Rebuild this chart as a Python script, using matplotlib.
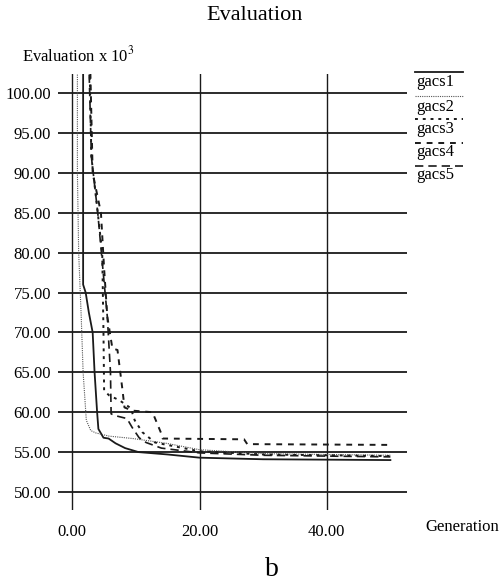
import matplotlib
matplotlib.use("Agg")
import matplotlib.pyplot as plt
from matplotlib.lines import Line2D

plt.rcParams['font.family'] = ['Liberation Serif', 'DejaVu Serif']
plt.rcParams['mathtext.fontset'] = 'stix'

# --- data (generation, evaluation x 10^3) ---
gacs1_x = [1.7, 1.7, 2.1, 2.6, 3.2, 3.5, 3.9, 4.1, 4.9, 5.7, 6.8, 8.3, 10.4, 15, 20, 30, 50]
gacs1_y = [104, 76, 75, 72.5, 70, 65, 60, 57.9, 56.8, 56.7, 56.1, 55.5, 55.0, 54.7, 54.3, 54.1, 54.0]

gacs2_x = [0.8, 0.8, 1.0, 1.4, 1.7, 2.2, 2.9, 3.7, 5.8, 9.5, 14.8, 20, 30, 50]
gacs2_y = [104, 90, 80, 72, 65, 59, 57.7, 57.4, 57.0, 56.7, 56.1, 55.3, 54.8, 54.6]

gacs3_x = [2.7, 3.0, 4.0, 4.7, 4.9, 5.0, 5.8, 7.4, 9.2, 9.8, 11, 13, 20, 30, 50]
gacs3_y = [104, 92, 85, 80, 70, 62.7, 62.1, 61.5, 60.5, 59, 57.5, 56.2, 55.1, 54.7, 54.5]

gacs4_x = [2.8, 3.2, 4.5, 5.0, 5.5, 6.3, 7.1, 7.9, 8.2, 9.4, 12.6, 14.0, 14.2, 27, 27.5, 50]
gacs4_y = [104, 90, 85, 78, 72, 68, 67.8, 62.7, 60.6, 60.2, 60.0, 57.3, 56.7, 56.6, 56.0, 55.9]

gacs5_x = [2.6, 3.0, 4.0, 4.8, 5.5, 6.0, 6.1, 6.6, 8.6, 9.4, 10.5, 11.6, 14, 20, 30, 50]
gacs5_y = [104, 92, 85, 78, 72, 65, 59.8, 59.6, 59.2, 58.1, 56.8, 56.2, 55.5, 54.9, 54.6, 54.4]

series_names = ["gacs1", "gacs2", "gacs3", "gacs4", "gacs5"]
xticks = [0, 20, 40]
yticks = [50, 55, 60, 65, 70, 75, 80, 85, 90, 95, 100]

ink = "#1a1a1a"
styles = [
    dict(linestyle="-", linewidth=1.3),
    dict(linestyle=(0, (1, 1)), linewidth=0.8, color="#555555"),
    dict(linestyle=(0, (1.5, 2.5)), linewidth=1.4),
    dict(linestyle=(0, (3, 3)), linewidth=1.4),
    dict(linestyle=(0, (5, 3)), linewidth=1.2),
]

fig = plt.figure(figsize=(5.03, 5.86), dpi=100)
ax = fig.add_axes([0.1153, 0.1297, 0.809 - 0.1153, 0.8737 - 0.1297])

all_x = [gacs1_x, gacs2_x, gacs3_x, gacs4_x, gacs5_x]
all_y = [gacs1_y, gacs2_y, gacs3_y, gacs4_y, gacs5_y]
for xs, ys, st in zip(all_x, all_y, styles):
    kw = dict(color=ink)
    kw.update(st)
    ax.plot(xs, ys, **kw)

ax.set_xlim(-2.25, 52.6)
ax.set_ylim(47.74, 102.4)
ax.set_xticks(xticks)
ax.set_yticks(yticks)
ax.set_xticklabels([f"{v:.2f}" for v in xticks], fontsize=12)
ax.set_yticklabels([f"{v:.2f}" for v in yticks], fontsize=12)
ax.tick_params(length=0, pad=5)
ax.tick_params(axis='x', pad=10)
for s in ax.spines.values():
    s.set_visible(False)
ax.grid(True, axis='y', color=ink, linewidth=1.3)
ax.grid(True, axis='x', color=ink, linewidth=1.0)
ax.set_axisbelow(True)

fig.text(0.507, 0.974, "Evaluation", ha='center', va='center', fontsize=16)
fig.text(0.044, 0.906, "Evaluation x 10$^3$", ha='left', va='center', fontsize=12)
fig.text(0.845, 0.100, "Generation", ha='left', va='center', fontsize=12)
fig.text(0.541, 0.028, "b", ha='center', va='center', fontsize=20)

# legend: sample line above each name
line_y = [72.3, 96, 119, 143, 166]
text_y = [82, 107, 129, 152, 175]
for name, st, ly, ty in zip(series_names, styles, line_y, text_y):
    kw = dict(color=ink)
    kw.update(st)
    fig.add_artist(Line2D([415 / 503, 463 / 503], [1 - ly / 586, 1 - ly / 586],
                          transform=fig.transFigure, **kw))
    fig.text(416 / 503, 1 - ty / 586, name, ha='left', va='center', fontsize=12)

fig.savefig("out.png", dpi=100)
